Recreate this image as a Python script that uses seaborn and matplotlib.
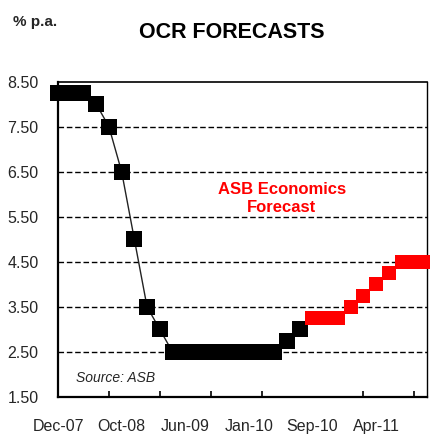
import numpy as np
import pandas as pd
import matplotlib
matplotlib.use("Agg")
import matplotlib.pyplot as plt
import seaborn as sns

# OCR review dates (one point per review)
dates = ["Dec-07", "Mar-08", "Jun-08", "Jul-08", "Sep-08", "Oct-08", "Dec-08",
         "Jan-09", "Mar-09", "Apr-09", "Jun-09", "Jul-09", "Sep-09", "Oct-09",
         "Dec-09", "Jan-10", "Mar-10", "Apr-10", "Jun-10", "Jul-10", "Sep-10",
         "Oct-10", "Dec-10", "Jan-11", "Mar-11", "Apr-11", "Jun-11", "Jul-11",
         "Sep-11", "Oct-11"]

# Actual OCR (% p.a.)
actual = [8.25, 8.25, 8.25, 8.00, 7.50, 6.50, 5.00, 3.50, 3.00, 2.50,
          2.50, 2.50, 2.50, 2.50, 2.50, 2.50, 2.50, 2.50, 2.75, 3.00]

# ASB Economics forecast (% p.a.)
forecast = [3.25, 3.25, 3.25, 3.50, 3.75, 4.00, 4.25, 4.50, 4.50, 4.50]

y_ticks = [1.50, 2.50, 3.50, 4.50, 5.50, 6.50, 7.50, 8.50]
label_every = 5
tick_every = 4

pos = np.arange(len(dates))
df_act = pd.DataFrame({"pos": pos[:len(actual)], "ocr": actual})
df_fc = pd.DataFrame({"pos": pos[len(actual):len(actual) + len(forecast)], "ocr": forecast})

sns.set_style("white")
plt.rcParams["font.family"] = ["Liberation Sans", "DejaVu Sans"]

fig = plt.figure(figsize=(4.30, 4.34), dpi=100)
ax = fig.add_axes([58 / 430, 37 / 434, 369 / 430, 315.5 / 434])

sns.lineplot(data=df_act, x="pos", y="ocr", ax=ax, color="#222222", lw=1.0,
             marker="s", markersize=11.2, markerfacecolor="black",
             markeredgewidth=0, clip_on=False, zorder=4)
sns.lineplot(data=df_fc, x="pos", y="ocr", ax=ax, color="#ff0000", lw=1.0,
             marker="s", markersize=9.6, markerfacecolor="#ff0000",
             markeredgewidth=0, clip_on=False, zorder=4)

ax.set_xlim(0, len(dates) - 1)
ax.set_ylim(y_ticks[0], y_ticks[-1])
ax.set_yticks(y_ticks)
ax.set_yticklabels([f"{v:.2f}" for v in y_ticks], fontsize=11.5)
ax.tick_params(axis="y", length=0, pad=14)

ax.set_xticks(pos[::label_every])
ax.set_xticklabels([dates[i] for i in pos[::label_every]], fontsize=11.5)
ax.set_xticks(pos[::tick_every], minor=True)
ax.tick_params(axis="x", which="major", length=0, pad=16)
ax.tick_params(axis="x", which="minor", direction="in", length=4, width=1.2,
               color="black", bottom=True)
ax.set_xlabel("")
ax.set_ylabel("")

for v in y_ticks[1:-1]:
    ax.axhline(v, color="black", lw=1.0, ls=(0, (4, 2)), zorder=1)

for side, w in [("left", 1.6), ("bottom", 1.6), ("right", 1.0), ("top", 1.2)]:
    ax.spines[side].set_visible(True)
    ax.spines[side].set_color("black")
    ax.spines[side].set_linewidth(w)

fig.text(282 / 430, 1 - 198 / 434, "ASB Economics\nForecast",
         color="#ff0000", fontsize=12, fontweight="bold", ha="center",
         va="center", linespacing=1.25)
ax.text(0.05, 0.06, "Source: ASB", transform=ax.transAxes, fontsize=10,
        style="italic", ha="left", va="center")

fig.text(232 / 430, 1 - 32 / 434, "OCR FORECASTS", fontsize=15.5,
         fontweight="bold", ha="center", va="center", color="black")
fig.text(13 / 430, 1 - 22 / 434, "% p.a.", fontsize=11, fontweight="bold",
         ha="left", va="center")

fig.savefig("out.png", dpi=100)
